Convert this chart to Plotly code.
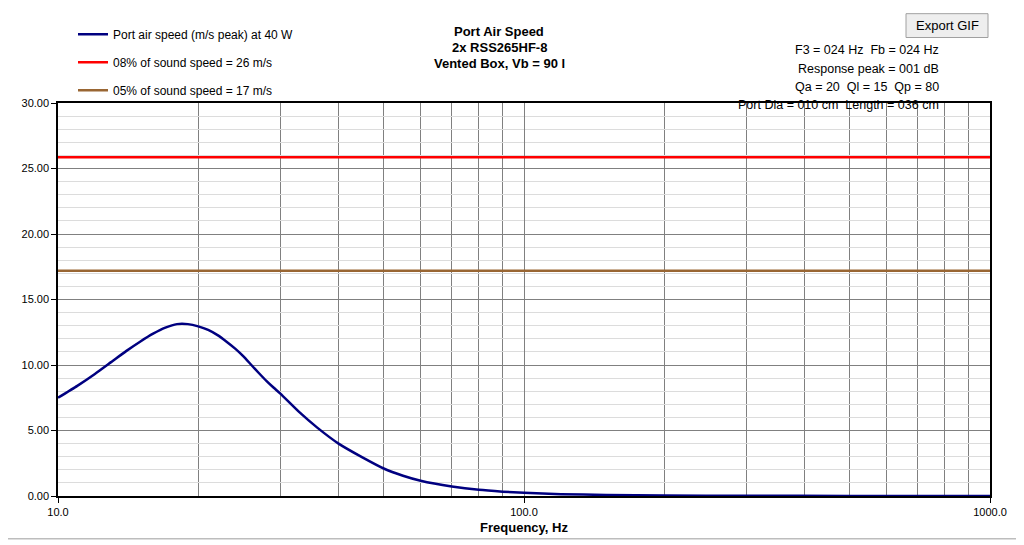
import plotly.graph_objects as go

# port air speed curve
freq_hz = [10, 11, 12, 13, 14, 15, 16, 17, 18, 19, 20, 21, 22, 23, 24, 25, 26, 27, 28,
           29, 30, 33, 36, 40, 45, 50, 55, 60, 70, 80, 90, 100, 120, 150, 200, 300, 500,
           1000]
air_speed = [7.5, 8.41, 9.32, 10.22, 11.06, 11.78, 12.39, 12.85, 13.12, 13.12, 12.95,
             12.68, 12.28, 11.78, 11.25, 10.66, 10.0, 9.37, 8.79, 8.28, 7.82, 6.38, 5.22,
             4.0, 2.95, 2.1, 1.55, 1.17, 0.73, 0.47, 0.33, 0.24, 0.14, 0.08, 0.04, 0.015,
             0.005, 0.001]

# limit lines
limit_x = [10, 1000]
limit_8pct = [25.85, 25.85]
limit_5pct = [17.2, 17.2]

series_names = ["Port air speed (m/s peak) at 40 W",
                "08% of sound speed = 26 m/s",
                "05% of sound speed = 17 m/s"]

title_lines = ["Port Air Speed", "2x RSS265HF-8", "Vented Box, Vb = 90 l"]
info_lines = ["F3 = 024 Hz  Fb = 024 Hz",
              "Response peak = 001 dB",
              "Qa = 20  Ql = 15  Qp = 80",
              "Port Dia = 010 cm  Length = 036 cm"]

FONT = "Liberation Sans, Arial, sans-serif"

# page has an 8px body margin, so the figure starts at (8, 8)
OFF = 8
W, H = 1024 - OFF, 545 - OFF
# plot area in page pixels
L, R, T, B = 58, 990, 102, 498


def px(x):
    return (x - L) / (R - L)


def py(y):
    return (B - y) / (B - T)


fig = go.Figure()
fig.add_trace(go.Scatter(x=freq_hz, y=air_speed, mode="lines", name=series_names[0],
                         line=dict(color="#000080", width=2.5, shape="spline", smoothing=0.5),
                         legendgroup="a"))
fig.add_trace(go.Scatter(x=limit_x, y=limit_8pct, mode="lines", name=series_names[1],
                         line=dict(color="#ff0000", width=2.5), legendgroup="b"))
fig.add_trace(go.Scatter(x=limit_x, y=limit_5pct, mode="lines", name=series_names[2],
                         line=dict(color="#996633", width=2.5), legendgroup="c"))

minor_x = [m * d for d in (10, 100) for m in range(2, 10)]

fig.update_layout(
    width=W,
    height=H,
    margin=dict(l=L - OFF, r=1024 - R, t=T - OFF, b=545 - B),
    autosize=False,
    paper_bgcolor="white",
    plot_bgcolor="white",
    font=dict(family=FONT, size=11, color="black"),
    showlegend=True,
    legend=dict(x=px(73), y=py(18), xanchor="left", yanchor="top",
                bgcolor="rgba(0,0,0,0)", font=dict(size=12),
                tracegroupgap=9, itemwidth=30),
    xaxis=dict(
        type="log",
        range=[1, 3],
        tickvals=[10, 100, 1000],
        ticktext=["10.0", "100.0", "1000.0"],
        ticks="outside", ticklen=5, tickcolor="black",
        showline=True, linecolor="black", linewidth=1.5, mirror=True,
        showgrid=True, gridcolor="#808080", gridwidth=1,
        minor=dict(tickvals=minor_x, showgrid=True, gridcolor="#808080", ticks=""),
        title=dict(text="<b>Frequency, Hz</b>", font=dict(size=13), standoff=6),
        zeroline=False,
    ),
    yaxis=dict(
        range=[0, 30],
        dtick=5,
        tickformat=".2f",
        ticks="outside", ticklen=5, tickcolor="black",
        showline=True, linecolor="black", linewidth=1.5, mirror=True,
        showgrid=True, gridcolor="#808080", gridwidth=1,
        minor=dict(dtick=1, showgrid=True, gridcolor="#dcdcdc", ticks=""),
        zeroline=False,
    ),
)

# chart border and the export button
fig.add_shape(type="rect", xref="paper", yref="paper",
              x0=px(3), x1=px(1021), y0=py(541), y1=py(3),
              line=dict(color="#bdbdbd", width=1.5), layer="below")
fig.add_shape(type="rect", xref="paper", yref="paper",
              x0=px(906), x1=px(988), y0=py(36), y1=py(12),
              line=dict(color="#a0a0a0", width=1), fillcolor="#eeeeee")
fig.add_annotation(text="Export GIF", xref="paper", yref="paper",
                   x=px(947), y=py(24), showarrow=False,
                   xanchor="center", yanchor="middle", font=dict(size=13))

for i, line in enumerate(title_lines):
    fig.add_annotation(text="<b>%s</b>" % line, xref="paper", yref="paper",
                       x=px(499), y=py(30 + 16 * i), showarrow=False,
                       xanchor="center", yanchor="middle", font=dict(size=13))

for i, line in enumerate(info_lines):
    fig.add_annotation(text=line, xref="paper", yref="paper",
                       x=px(941), y=py(49 + 18.3 * i), showarrow=False,
                       xanchor="right", yanchor="middle", font=dict(size=12.5))

fig.write_html("out.html")
